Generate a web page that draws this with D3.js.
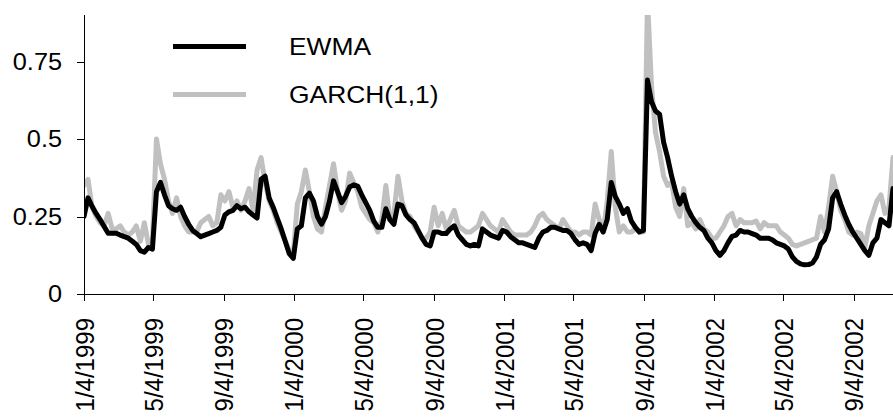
<!DOCTYPE html>
<html>
<head>
<meta charset="utf-8">
<script src="https://cdn.jsdelivr.net/npm/d3@7"></script>
<style>
  html, body { margin: 0; padding: 0; background: #fff; }
  svg { display: block; }
  text { font-family: "Liberation Sans", Arial, sans-serif; fill: #000; }
</style>
</head>
<body>
<svg id="chart" width="893" height="419"></svg>
<script>
// ---- data (weekly observations, first week starting 1999-01-04) ----
const firstWeek = "1999-01-04";
const seriesNames = ["EWMA", "GARCH(1,1)"];
const ewma = [
  0.25,0.31,0.283,0.26,0.24,0.218,0.196,0.196,0.196,0.19,
  0.185,0.18,0.17,0.16,0.14,0.135,0.15,0.145,0.33,0.36,
  0.32,0.285,0.275,0.27,0.28,0.25,0.225,0.205,0.195,0.185,
  0.19,0.195,0.2,0.205,0.215,0.255,0.265,0.27,0.285,0.275,
  0.28,0.265,0.255,0.245,0.37,0.38,0.31,0.28,0.245,0.21,
  0.17,0.13,0.115,0.21,0.22,0.31,0.325,0.3,0.25,0.225,
  0.25,0.3,0.365,0.33,0.295,0.315,0.345,0.352,0.348,0.32,
  0.295,0.27,0.235,0.215,0.215,0.275,0.24,0.225,0.29,0.285,
  0.255,0.24,0.23,0.205,0.18,0.16,0.155,0.2,0.2,0.195,
  0.195,0.21,0.22,0.19,0.175,0.16,0.155,0.16,0.155,0.21,
  0.2,0.19,0.185,0.18,0.205,0.2,0.185,0.175,0.165,0.165,
  0.16,0.155,0.15,0.18,0.2,0.205,0.215,0.215,0.21,0.205,
  0.205,0.195,0.175,0.16,0.165,0.16,0.14,0.196,0.225,0.2,
  0.24,0.36,0.315,0.29,0.26,0.275,0.235,0.215,0.2,0.205,
  0.69,0.62,0.59,0.58,0.49,0.44,0.38,0.33,0.29,0.32,
  0.275,0.25,0.23,0.215,0.205,0.18,0.165,0.14,0.125,0.14,
  0.165,0.186,0.19,0.205,0.2,0.2,0.195,0.19,0.18,0.18,
  0.18,0.175,0.165,0.16,0.155,0.145,0.12,0.105,0.097,0.094,
  0.095,0.1,0.12,0.16,0.175,0.21,0.31,0.33,0.29,0.255,
  0.225,0.2,0.18,0.16,0.14,0.125,0.165,0.18,0.24,0.23,
  0.22,0.34
];
const garch = [
  0.35,0.37,0.28,0.25,0.23,0.22,0.26,0.21,0.21,0.22,
  0.2,0.19,0.2,0.22,0.17,0.23,0.16,0.17,0.5,0.42,
  0.37,0.3,0.26,0.31,0.25,0.22,0.2,0.2,0.2,0.23,
  0.24,0.25,0.22,0.23,0.32,0.3,0.33,0.28,0.3,0.27,
  0.3,0.34,0.27,0.4,0.44,0.36,0.3,0.27,0.23,0.2,
  0.17,0.14,0.13,0.29,0.33,0.4,0.33,0.25,0.21,0.2,
  0.28,0.35,0.42,0.33,0.27,0.3,0.39,0.36,0.33,0.28,
  0.26,0.24,0.23,0.2,0.24,0.35,0.24,0.26,0.38,0.3,
  0.26,0.25,0.22,0.2,0.18,0.18,0.2,0.28,0.22,0.26,
  0.21,0.24,0.27,0.22,0.21,0.2,0.2,0.21,0.22,0.26,
  0.24,0.22,0.21,0.2,0.24,0.22,0.2,0.19,0.19,0.19,
  0.19,0.2,0.22,0.25,0.26,0.24,0.23,0.22,0.21,0.24,
  0.22,0.2,0.2,0.19,0.2,0.2,0.19,0.29,0.24,0.2,
  0.3,0.46,0.28,0.2,0.22,0.2,0.2,0.21,0.2,0.2,
  0.95,0.67,0.52,0.46,0.38,0.35,0.36,0.28,0.25,0.34,
  0.22,0.23,0.21,0.24,0.21,0.2,0.18,0.18,0.2,0.22,
  0.25,0.26,0.22,0.24,0.23,0.23,0.23,0.235,0.21,0.23,
  0.22,0.22,0.22,0.2,0.19,0.18,0.16,0.155,0.16,0.165,
  0.17,0.175,0.18,0.25,0.2,0.28,0.38,0.33,0.27,0.24,
  0.2,0.19,0.2,0.195,0.15,0.22,0.26,0.3,0.32,0.26,
  0.28,0.44
];
const xTickLabels = ["1/4/1999","5/4/1999","9/4/1999","1/4/2000","5/4/2000","9/4/2000",
  "1/4/2001","5/4/2001","9/4/2001","1/4/2002","5/4/2002","9/4/2002"];
const yTicks = [0, 0.25, 0.5, 0.75];
const yMax = 0.9;

// ---- build ----
const parseISO = d3.timeParse("%Y-%m-%d");
const parseTick = d3.timeParse("%m/%d/%Y");
const start = parseISO(firstWeek);
const dates = ewma.map((_, i) => d3.timeDay.offset(start, 7 * i));
const xTickDates = xTickLabels.map(parseTick);

const svg = d3.select("#chart");
const mLeft = 84, mRight = 893, mTop = 15, mBottom = 294;
const stretch = 1.1;   // reference text is slightly wider than tall

const x = d3.scaleTime().domain([dates[0], dates[dates.length - 1]]).range([mLeft, mRight]);
const y = d3.scaleLinear().domain([0, yMax]).range([mBottom, mTop]);

svg.append("defs").append("clipPath").attr("id", "plotclip")
  .append("rect").attr("x", mLeft).attr("y", mTop).attr("width", mRight - mLeft + 5).attr("height", mBottom - mTop);

const line = d3.line().x((d, i) => x(dates[i])).y(d => y(d)).curve(d3.curveLinear);

const plot = svg.append("g").attr("clip-path", "url(#plotclip)");
plot.append("path").datum(garch).attr("d", line)
  .attr("fill", "none").attr("stroke", "#c0c0c0").attr("stroke-width", 5)
  .attr("stroke-linejoin", "round").attr("stroke-linecap", "round");
plot.append("path").datum(ewma).attr("d", line)
  .attr("fill", "none").attr("stroke", "#000").attr("stroke-width", 5)
  .attr("stroke-linejoin", "round").attr("stroke-linecap", "round");

// axes
const axes = svg.append("g").attr("shape-rendering", "crispEdges");
axes.append("line").attr("x1", mLeft + 0.5).attr("x2", mLeft + 0.5).attr("y1", mTop).attr("y2", mBottom + 0.5)
  .attr("stroke", "#000").attr("stroke-width", 1);
axes.append("line").attr("x1", mLeft).attr("x2", mRight).attr("y1", mBottom + 0.5).attr("y2", mBottom + 0.5)
  .attr("stroke", "#000").attr("stroke-width", 1);

// y ticks
yTicks.forEach(v => {
  const py = Math.round(y(v)) + 0.5;
  axes.append("line").attr("x1", mLeft - 7).attr("x2", mLeft).attr("y1", py).attr("y2", py)
    .attr("stroke", "#000");
  svg.append("g").attr("transform", `translate(${mLeft - 22},${y(v)}) scale(${stretch},1)`)
    .append("text").attr("text-anchor", "end").attr("dy", "0.36em")
    .style("font-size", "23px").text(String(v));
});

// x ticks
xTickDates.forEach((d, i) => {
  const px = Math.round(x(d)) + 0.5;
  axes.append("line").attr("x1", px).attr("x2", px).attr("y1", mBottom).attr("y2", mBottom + 7)
    .attr("stroke", "#000");
  svg.append("g").attr("transform", `translate(${x(d)},318) scale(${stretch},1) rotate(-90)`)
    .append("text").attr("text-anchor", "end").attr("dy", "0.36em")
    .style("font-size", "24px").text(xTickLabels[i]);
});

// legend
const legend = svg.append("g");
const legendRows = [{name: seriesNames[0], color: "#000", y: 46.5}, {name: seriesNames[1], color: "#c0c0c0", y: 94.5}];
legendRows.forEach(r => {
  legend.append("line").attr("x1", 173).attr("x2", 246).attr("y1", r.y).attr("y2", r.y)
    .attr("stroke", r.color).attr("stroke-width", 5);
  legend.append("g").attr("transform", `translate(289,${r.y}) scale(${stretch},1)`)
    .append("text").attr("dy", "0.36em").style("font-size", "24px").text(r.name);
});
</script>
</body>
</html>
